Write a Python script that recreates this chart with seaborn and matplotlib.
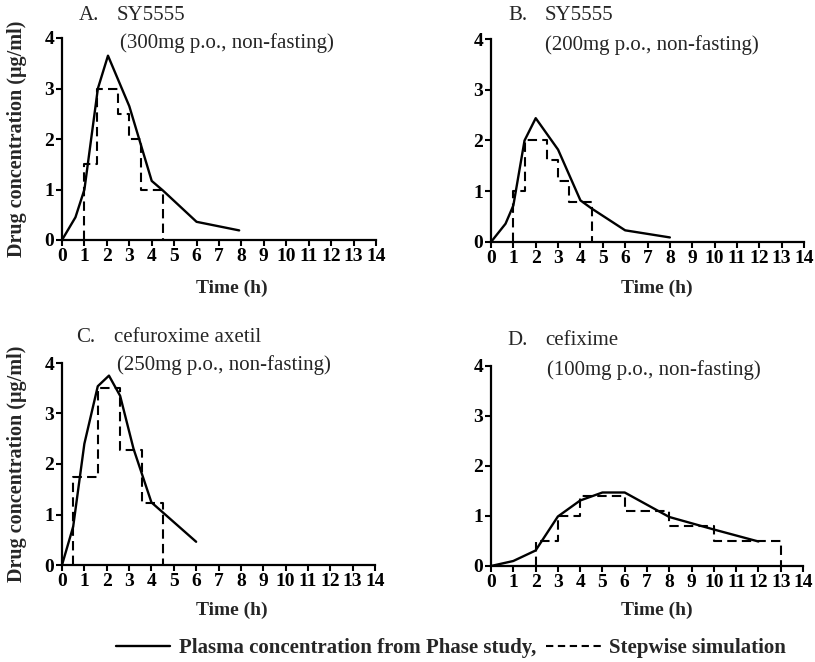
import matplotlib
matplotlib.use("Agg")
import matplotlib.pyplot as plt
from matplotlib.lines import Line2D
import seaborn as sns

# Observed plasma concentration (time in h, concentration in ug/ml)
a_time = [0, 0.6, 1.0, 1.6, 2.05, 3.0, 4.0, 4.5, 6.0, 7.9]
a_conc = [0, 0.45, 1.0, 3.0, 3.65, 2.65, 1.17, 0.98, 0.36, 0.19]
b_time = [0, 0.65, 1.0, 1.5, 2.0, 3.0, 4.0, 4.5, 6.0, 8.0]
b_conc = [0, 0.36, 0.72, 2.0, 2.44, 1.82, 0.82, 0.66, 0.23, 0.09]
c_time = [0, 0.5, 1.0, 1.6, 2.1, 2.6, 3.2, 4.0, 6.0]
c_conc = [0, 0.76, 2.4, 3.54, 3.75, 3.35, 2.3, 1.24, 0.46]
d_time = [0, 1, 2, 3, 4, 5, 6, 8, 10, 12]
d_conc = [0, 0.1, 0.31, 0.99, 1.31, 1.47, 1.47, 0.98, 0.73, 0.49]

# Stepwise simulation: interval edges (h) and concentration held in each interval
a_edges = [1.0, 1.55, 2.5, 3.0, 3.5, 4.5]
a_steps = [1.5, 3.0, 2.5, 2.0, 1.0]
b_edges = [1.0, 1.5, 2.5, 3.0, 3.5, 4.5]
b_steps = [1.0, 2.0, 1.62, 1.2, 0.78]
c_edges = [0.5, 1.6, 2.6, 3.6, 4.5]
c_steps = [1.75, 3.5, 2.27, 1.22]
d_edges = [2, 3, 4, 6, 8, 10, 13]
d_steps = [0.5, 1.0, 1.4, 1.1, 0.8, 0.5]

panel_letters = ["A.", "B.", "C.", "D."]
drug_names = ["SY5555", "SY5555", "cefuroxime axetil", "cefixime"]
doses = ["(300mg p.o., non-fasting)", "(200mg p.o., non-fasting)",
         "(250mg p.o., non-fasting)", "(100mg p.o., non-fasting)"]
x_ticks = list(range(0, 15))
y_ticks = [0, 1, 2, 3, 4]
x_label = "Time (h)"
y_label = "Drug concentration (\u03bcg/ml)"
legend_labels = ["Plasma concentration from Phase study,", "Stepwise simulation"]

sns.set_theme(style="white")
serif = ["Liberation Serif", "DejaVu Serif"]
plt.rcParams["font.family"] = serif

W, H = 815, 662
fig = plt.figure(figsize=(W / 100, H / 100), dpi=100)

def fx(px):
    return px / W

def fy(py):
    return 1 - py / H

# axes boxes in pixels: left, right, top, bottom
boxes = [(62, 376, 38, 240), (491, 804, 39, 242),
         (62, 375, 363, 565), (491, 803, 366, 566)]
title_pos = [(79, 117, 15, 120, 43), (508, 545, 15, 545, 45),
             (76, 114, 337, 117, 365), (507, 545, 340, 547, 370)]

curves = [(a_time, a_conc), (b_time, b_conc), (c_time, c_conc), (d_time, d_conc)]
steps = [(a_edges, a_steps), (b_edges, b_steps), (c_edges, c_steps), (d_edges, d_steps)]

for i in range(4):
    l, r, t, b = boxes[i]
    ax = fig.add_axes([fx(l), fy(b), fx(r) - fx(l), fy(t) - fy(b)])
    tx, ty = curves[i]
    sns.lineplot(x=tx, y=ty, ax=ax, color="black", linewidth=1.7,
                 sort=False, estimator=None, clip_on=False)
    edges, vals = steps[i]
    sx = [edges[0]] + edges[:-1] + [edges[-1]]
    sy = [0] + vals + [0]
    sns.lineplot(x=sx, y=sy, ax=ax, color="black", linewidth=1.5,
                 linestyle=(0, (4.5, 2.5)), drawstyle="steps-post",
                 sort=False, estimator=None, clip_on=False)
    ax.set_xlim(0, 14)
    ax.set_ylim(0, 4)
    ax.set_xticks(x_ticks)
    ax.set_yticks(y_ticks)
    ax.set_xlabel("")
    ax.set_ylabel("")
    sns.despine(ax=ax)
    for s in ("left", "bottom"):
        ax.spines[s].set_linewidth(1.6)
        ax.spines[s].set_color("black")
    ax.tick_params(direction="out", length=4, width=1.5, color="black",
                   labelsize=14, pad=1.5, bottom=True, left=True)
    for lab in ax.get_xticklabels() + ax.get_yticklabels():
        lab.set_fontweight("bold")
        lab.set_color("black")

    lx, nx, ly, dx, dy = title_pos[i]
    fig.text(fx(lx), fy(ly), panel_letters[i], fontsize=15, ha="left", va="center")
    fig.text(fx(nx), fy(ly), drug_names[i], fontsize=15, ha="left", va="center")
    fig.text(fx(dx), fy(dy), doses[i], fontsize=15, ha="left", va="center")

    xl_x = 232 if i % 2 == 0 else 657
    xl_y = 288 if i < 2 else 610
    fig.text(fx(xl_x), fy(xl_y), x_label, fontsize=14, fontweight="bold",
             ha="center", va="center")
    if i % 2 == 0:
        fig.text(fx(17), fy((t + b) / 2), y_label, fontsize=14.5, fontweight="bold",
                 rotation=90, ha="center", va="center")

handles = [Line2D([], [], color="black", linewidth=1.7),
           Line2D([], [], color="black", linewidth=1.5, linestyle=(0, (3.5, 2.2)))]
fig.legend(handles, legend_labels, loc="center", bbox_to_anchor=(fx(451), fy(648)),
           ncol=2, frameon=False, handlelength=2.6, handletextpad=0.4,
           columnspacing=0.5, prop={"family": serif, "weight": "bold", "size": 15})

fig.savefig("out.png", dpi=100)
